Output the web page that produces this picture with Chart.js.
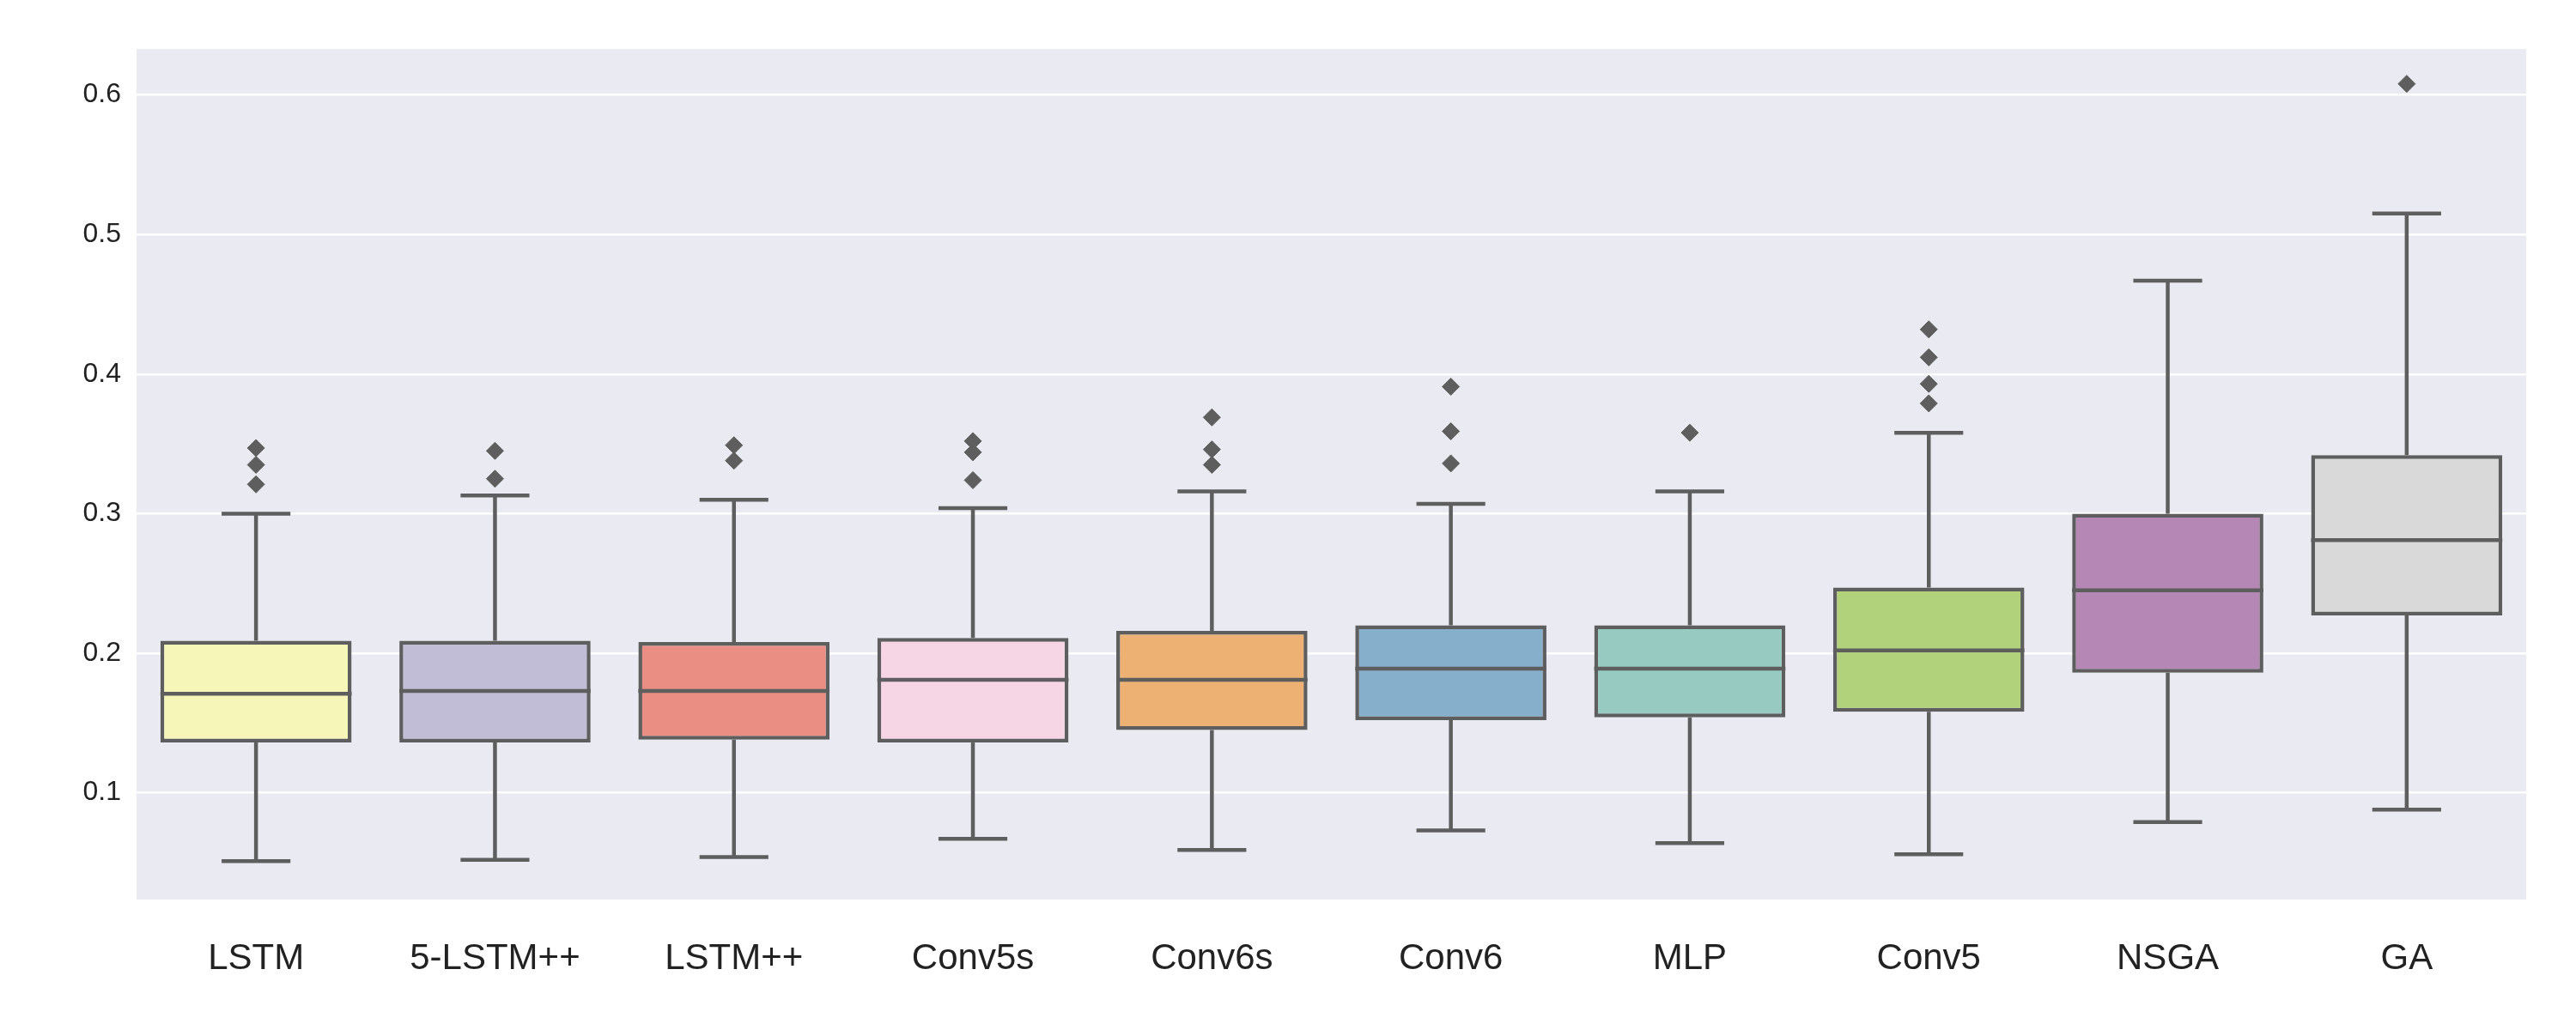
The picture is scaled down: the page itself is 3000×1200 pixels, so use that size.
<!DOCTYPE html>
<html>
<head>
<meta charset="utf-8">
<script src="https://cdn.jsdelivr.net/npm/chart.js@4"></script>
<style>
  body { margin: 0; background: #fff; }
  canvas { display: block; }
</style>
</head>
<body>
<canvas id="box" width="3000" height="1200"></canvas>
<script>
// Data
const models = ['LSTM', '5-LSTM++', 'LSTM++', 'Conv5s', 'Conv6s', 'Conv6', 'MLP', 'Conv5', 'NSGA', 'GA'];
const whiskerLow = [0.051, 0.052, 0.054, 0.067, 0.059, 0.073, 0.064, 0.056, 0.079, 0.088];
const q1 = [0.136, 0.136, 0.138, 0.136, 0.145, 0.152, 0.154, 0.158, 0.186, 0.227];
const median = [0.171, 0.173, 0.173, 0.181, 0.181, 0.189, 0.189, 0.202, 0.245, 0.281];
const q3 = [0.209, 0.209, 0.208, 0.211, 0.216, 0.220, 0.220, 0.247, 0.300, 0.342];
const whiskerHigh = [0.300, 0.313, 0.310, 0.304, 0.316, 0.307, 0.316, 0.358, 0.467, 0.515];
const outliers = [
  [0.347, 0.335, 0.321],
  [0.345, 0.325],
  [0.349, 0.338],
  [0.352, 0.344, 0.324],
  [0.369, 0.346, 0.335],
  [0.391, 0.359, 0.336],
  [0.358],
  [0.432, 0.412, 0.393, 0.379],
  [],
  [0.608]
];
const yTicks = [0.1, 0.2, 0.3, 0.4, 0.5, 0.6];
const colors = ['#f6f6b9', '#c1bdd6', '#ea8e83', '#f6d5e5', '#edb173', '#86afcc', '#97cbc1', '#b1d27a', '#b587b5', '#d9d9d9'];
const lineColor = '#5e5e5e';

const outlierPoints = [];
outliers.forEach((list, i) => list.forEach(v => outlierPoints.push({ x: models[i], y: v })));

const plotBg = {
  id: 'plotBg',
  beforeDraw(chart) {
    const { ctx, chartArea: a } = chart;
    ctx.save();
    ctx.fillStyle = '#eaeaf2';
    ctx.fillRect(a.left, a.top, a.right - a.left, a.bottom - a.top);
    ctx.restore();
  }
};

// whiskers, caps and medians, placed with the library's scales
const boxParts = {
  id: 'boxParts',
  afterDatasetsDraw(chart) {
    const { ctx } = chart;
    const y = chart.scales.y;
    const bars = chart.getDatasetMeta(0).data;
    ctx.save();
    ctx.strokeStyle = lineColor;
    ctx.lineWidth = 4.5;
    bars.forEach((bar, i) => {
      const cx = bar.x, half = bar.width / 2, cap = bar.width * 0.18;
      const line = (x1, y1, x2, y2) => { ctx.beginPath(); ctx.moveTo(x1, y1); ctx.lineTo(x2, y2); ctx.stroke(); };
      line(cx, y.getPixelForValue(q3[i]), cx, y.getPixelForValue(whiskerHigh[i]));
      line(cx, y.getPixelForValue(q1[i]), cx, y.getPixelForValue(whiskerLow[i]));
      line(cx - cap, y.getPixelForValue(whiskerHigh[i]), cx + cap, y.getPixelForValue(whiskerHigh[i]));
      line(cx - cap, y.getPixelForValue(whiskerLow[i]), cx + cap, y.getPixelForValue(whiskerLow[i]));
      line(cx - half, y.getPixelForValue(median[i]), cx + half, y.getPixelForValue(median[i]));
    });
    ctx.restore();
  }
};

new Chart(document.getElementById('box'), {
  type: 'bar',
  data: {
    labels: models,
    datasets: [{
      data: models.map((m, i) => [q1[i], q3[i]]),
      backgroundColor: colors,
      borderColor: lineColor,
      borderWidth: 4.5,
      borderSkipped: false,
      barPercentage: 0.8,
      categoryPercentage: 1
    }, {
      type: 'line',
      data: outlierPoints,
      showLine: false,
      pointStyle: 'rectRot',
      pointRadius: 10,
      backgroundColor: lineColor,
      borderColor: lineColor
    }]
  },
  options: {
    responsive: false,
    devicePixelRatio: 1,
    animation: false,
    layout: { padding: { top: 57, right: 58, left: 0, bottom: 0 } },
    plugins: { legend: { display: false }, tooltip: { enabled: false } },
    scales: {
      x: {
        grid: { display: false },
        border: { display: false },
        ticks: { color: '#222', font: { family: 'Liberation Sans', size: 42 }, padding: 36 },
        afterFit(s) { s.height = 152; }
      },
      y: {
        min: 0.0235,
        max: 0.633,
        afterBuildTicks(s) { s.ticks = yTicks.map(v => ({ value: v })); },
        grid: { color: '#ffffff', lineWidth: 2.5, drawTicks: false },
        border: { display: false },
        ticks: { color: '#222', font: { family: 'Liberation Sans', size: 32 }, padding: 18,
                 callback: v => v.toFixed(1) },
        afterFit(s) { s.width = 159; }
      }
    }
  },
  plugins: [plotBg, boxParts]
});
</script>
</body>
</html>
